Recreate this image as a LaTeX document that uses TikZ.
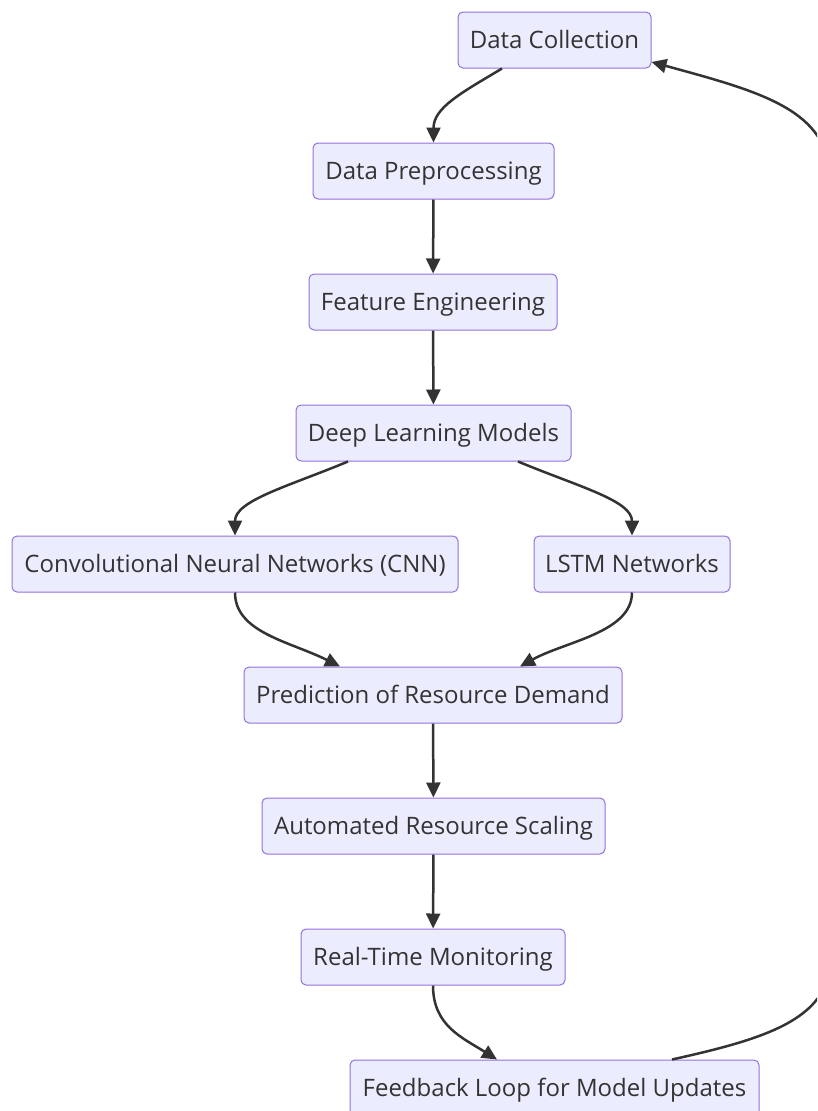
\documentclass[tikz,border=0pt]{standalone}
\usepackage{fontspec}
\setmainfont{Open Sans}
\usetikzlibrary{arrows.meta,calc}
\definecolor{nodefill}{HTML}{ECECFF}
\definecolor{nodeborder}{HTML}{9370DB}
\definecolor{ink}{HTML}{333333}
\begin{document}
\begin{tikzpicture}[x=1pt,y=-1pt,
  box/.style={draw=nodeborder, fill=nodefill, rounded corners=5pt, line width=1pt, text=ink,
    font=\fontsize{24}{28}\selectfont, minimum height=56pt, inner sep=0pt,
    text height=23.5pt, text depth=6pt},
  edge/.style={draw=ink, line width=2.5pt, -{Triangle[length=15pt,width=14pt]}}]
\useasboundingbox (0,0) rectangle (817,1111);
\clip (0,0) rectangle (817,1111);
\node[box, minimum width=193pt] (dc) at (554.5,40) {Data Collection};
\node[box, minimum width=241pt] (dp) at (433.5,171) {Data Preprocessing};
\node[box, minimum width=248pt] (fe) at (433,302) {Feature Engineering};
\node[box, minimum width=275pt] (dl) at (433.5,433) {Deep Learning Models};
\node[box, minimum width=446pt] (cnn) at (235,564) {Convolutional Neural Networks (CNN)};
\node[box, minimum width=196pt] (lstm) at (632,564) {LSTM Networks};
\node[box, minimum width=378pt] (pr) at (433,695) {Prediction of Resource Demand};
\node[box, minimum width=343pt] (ars) at (433.5,826) {Automated Resource Scaling};
\node[box, minimum width=264pt] (rtm) at (433,957) {Real-Time Monitoring};
\node[box, minimum width=409pt] (fl) at (554.5,1088) {Feedback Loop for Model Updates};

\draw[edge] ([xshift=-52.5pt]dc.south) .. controls +(-40,24) and +(0,-35) .. (dp.north);
\draw[edge] (dp) -- (fe);
\draw[edge] (fe) -- (dl);
\draw[edge] ([xshift=-85.5pt]dl.south) .. controls +(-60,25) and +(0,-35) .. (cnn.north);
\draw[edge] ([xshift=84.5pt]dl.south) .. controls +(60,25) and +(0,-35) .. (lstm.north);
\draw[edge] (cnn.south) .. controls +(0,40) and +(-50,-25) .. ([xshift=-93pt]pr.north);
\draw[edge] (lstm.south) .. controls +(0,40) and +(45,-25) .. ([xshift=87pt]pr.north);
\draw[edge] (pr) -- (ars);
\draw[edge] (ars) -- (rtm);
\draw[edge] (rtm.south) .. controls +(0,40) and +(-35,-22) .. ([xshift=-57.5pt]fl.north);
\coordinate (rb) at (830,960);
\coordinate (rt) at (830,180);
\draw[edge] ([xshift=117.5pt]fl.north) .. controls +(90,-20) and +(0,60) .. (rb) -- (rt)
  .. controls +(0,-70) and +(110,30) .. ([yshift=-22pt]dc.east);
\end{tikzpicture}
\end{document}
